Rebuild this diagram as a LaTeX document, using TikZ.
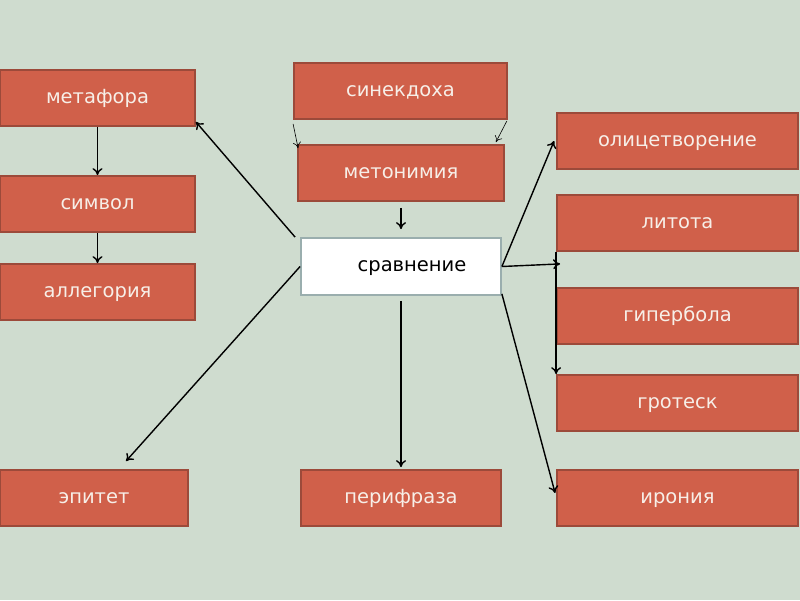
\documentclass[tikz,border=0pt]{standalone}
\usepackage{fontspec}
\setmainfont{DejaVu Sans}
\usetikzlibrary{arrows.meta,calc}
\definecolor{bg}{HTML}{CFDCCF}
\definecolor{boxfill}{HTML}{D0604A}
\definecolor{boxdraw}{HTML}{9C4A3A}
\definecolor{boxtext}{HTML}{F7EFE8}
\definecolor{whitedraw}{HTML}{9AAEAE}
\begin{document}
\begin{tikzpicture}[x=1pt,y=-1pt,
  rbox/.style={draw=boxdraw,line width=1.8pt,fill=boxfill,text=boxtext,
    minimum height=56pt,inner sep=0pt,text height=10.6pt,text depth=0pt,
    font=\fontsize{19.5}{22}\selectfont},
  wbox/.style={draw=whitedraw,line width=1.8pt,fill=white,text=black,
    minimum height=57pt,minimum width=200pt,inner sep=0pt,text height=10.6pt,text depth=0pt,
    font=\fontsize{19.5}{22}\selectfont},
  arr/.style={draw=black,line width=1.4pt,-{To[length=7pt,width=10pt]}},
  thinarr/.style={draw=black,line width=0.6pt,-{To[length=6pt,width=8pt]}}]
\useasboundingbox (0,0) rectangle (800,600);
\fill[bg] (0,0) rectangle (800,600);

\node[rbox,minimum width=195pt] (metafora) at (97.5,98) {метафора};
\node[rbox,minimum width=195pt] (simvol) at (97.5,204) {символ};
\node[rbox,minimum width=195pt] (allegoria) at (97.5,292) {аллегория};
\node[rbox,minimum width=213pt] (sinekdoha) at (400.5,91) {синекдоха};
\node[rbox,minimum width=206pt] (metonimia) at (401,173) {метонимия};
\node[wbox] (sravnenie) at (401,266.5) {\hspace*{22pt}сравнение};
\node[rbox,minimum width=241pt] (olic) at (677.5,141) {олицетворение};
\node[rbox,minimum width=241pt] (litota) at (677.5,223) {литота};
\node[rbox,minimum width=241pt] (giperbola) at (677.5,316) {гипербола};
\node[rbox,minimum width=241pt] (grotesk) at (677.5,403) {гротеск};
\node[rbox,minimum width=241pt] (ironia) at (677.5,498) {ирония};
\node[rbox,minimum width=188pt] (epitet) at (94,498) {эпитет};
\node[rbox,minimum width=200pt] (perifraza) at (401,498) {перифраза};

\draw[arr] (metafora.south) -- (simvol.north);
\draw[arr] (simvol.south) -- (allegoria.north);
\draw[arr] ([xshift=-5pt]sravnenie.north west) -- ([yshift=5pt]metafora.south east);
\draw[thinarr] ([yshift=-4pt]sinekdoha.south west) -- ([xshift=1pt,yshift=-4pt]metonimia.north west);
\draw[thinarr] ([xshift=-1pt,yshift=-1pt]sinekdoha.south east) -- ([xshift=-9pt,yshift=2pt]metonimia.north east);
\draw[arr] ([yshift=-6pt]metonimia.south) -- ([yshift=8pt]sravnenie.north);
\draw[arr] (sravnenie.east) -- ([xshift=-2pt]olic.west);
\coordinate (lit) at ($(litota.south west)+(4,12)$);
\draw[arr] (sravnenie.east) -- (lit);
\draw[arr] (litota.south west) -- (grotesk.north west);
\draw[arr] ([yshift=2pt]sravnenie.south east) -- ([xshift=-1pt,yshift=5pt]ironia.west);
\draw[arr] ([yshift=-5pt]sravnenie.south) -- ([yshift=2pt]perifraza.north);
\draw[arr] (sravnenie.west) -- ($(epitet.north)+(32,-8)$);
\end{tikzpicture}
\end{document}
